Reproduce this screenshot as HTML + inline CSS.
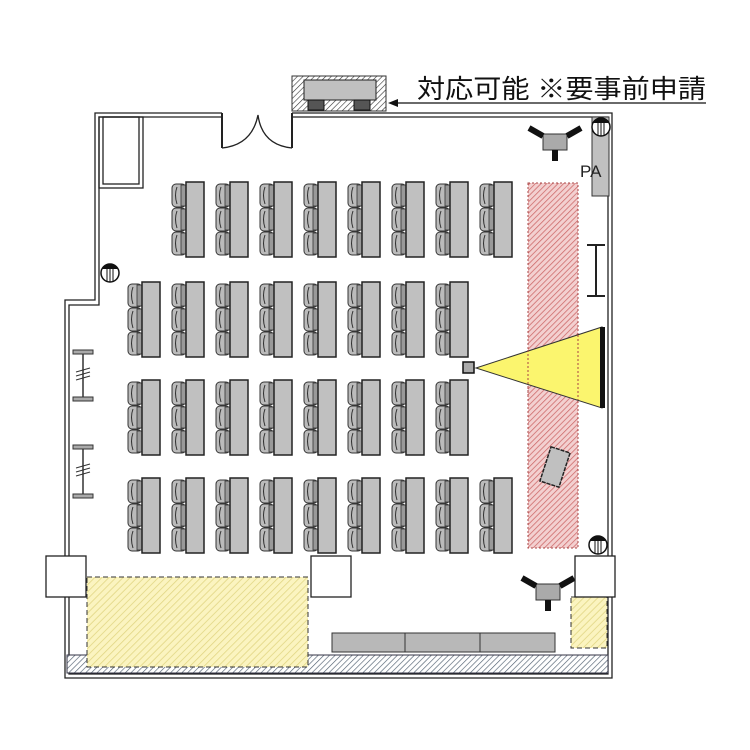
<!DOCTYPE html>
<html><head><meta charset="utf-8"><style>
html,body{margin:0;padding:0;background:#fff;width:750px;height:750px;overflow:hidden}
svg{display:block}
</style></head><body>
<svg width="750" height="750" viewBox="0 0 750 750" xmlns="http://www.w3.org/2000/svg">
<defs>
<pattern id="pink" patternUnits="userSpaceOnUse" width="4" height="4" patternTransform="rotate(45)">
<rect width="4" height="4" fill="#f3d0d0"/><line x1="0" y1="0" x2="0" y2="4" stroke="#cc6666" stroke-width="1.5"/></pattern>
<pattern id="yel" patternUnits="userSpaceOnUse" width="5" height="5" patternTransform="rotate(45)">
<rect width="5" height="5" fill="#fbf4c0"/><line x1="0" y1="0" x2="0" y2="5" stroke="#e0d480" stroke-width="1.5"/></pattern>
<pattern id="blue" patternUnits="userSpaceOnUse" width="4" height="4" patternTransform="rotate(45)">
<rect width="4" height="4" fill="#fff"/><line x1="0" y1="0" x2="0" y2="4" stroke="#506070" stroke-width="1.3"/></pattern>
<pattern id="gray" patternUnits="userSpaceOnUse" width="4" height="4" patternTransform="rotate(45)">
<rect width="4" height="4" fill="#fff"/><line x1="0" y1="0" x2="0" y2="4" stroke="#333" stroke-width="1.2"/></pattern>
<g id="chair">
<rect x="0" y="0" width="14" height="23" rx="4" fill="#bbb" stroke="#333" stroke-width="1"/>
<path d="M5 3 Q2 11 5 20" fill="none" stroke="#333" stroke-width="1"/>
<rect x="9" y="1" width="5" height="21" fill="#999" stroke="#333" stroke-width="0.8"/>
</g>
<g id="desk">
<use href="#chair" x="0" y="2"/>
<use href="#chair" x="0" y="26"/>
<use href="#chair" x="0" y="50"/>
<rect x="14" y="0" width="18" height="75" fill="#c0c0c0" stroke="#222" stroke-width="1.5"/>
</g>
<g id="spk">
<rect x="-12" y="0" width="24" height="16" fill="#aaa" stroke="#333"/>
<rect x="-3" y="16" width="6" height="11" fill="#111"/>
<line x1="-12" y1="2" x2="-26" y2="-6" stroke="#111" stroke-width="6"/>
<line x1="12" y1="2" x2="26" y2="-6" stroke="#111" stroke-width="6"/>
</g>
<g id="outlet">
<circle r="9" fill="#fff" stroke="#111" stroke-width="1.5"/>
<path d="M-8 -4 A9 9 0 0 1 8 -4 Z" fill="#111"/>
<line x1="-3" y1="-4" x2="-3" y2="8" stroke="#111"/>
<line x1="0" y1="-4" x2="0" y2="9" stroke="#111"/>
<line x1="3" y1="-4" x2="3" y2="8" stroke="#111"/>
</g>
</defs>

<rect x="292" y="76" width="94" height="35" fill="url(#gray)" stroke="#333"/>
<rect x="304" y="80" width="72" height="20" fill="#c0c0c0" stroke="#222"/>
<rect x="308" y="100" width="16" height="10" fill="#555" stroke="#111"/>
<rect x="354" y="100" width="16" height="10" fill="#555" stroke="#111"/>
<line x1="392" y1="103" x2="706" y2="103" stroke="#111" stroke-width="1.2"/>
<polygon points="388,103 398,99 398,107" fill="#111"/>
<text x="417" y="98" font-family="Liberation Sans, Noto Sans CJK JP, sans-serif" font-size="26" fill="#111" textLength="289" lengthAdjust="spacingAndGlyphs">対応可能 ※要事前申請</text>

<g fill="none" stroke="#222" stroke-width="1.3">
<path d="M222 113 H95 V300 H65 V678 H612 V113 H292"/>
<path d="M222 117 H99 V305 H69 V674 H608 V117 H292"/>
<rect x="99" y="117" width="44" height="71"/>
<rect x="103" y="117" width="36" height="67"/>
<line x1="222" y1="113" x2="222" y2="148" stroke-width="2"/>
<line x1="292" y1="113" x2="292" y2="148" stroke-width="2"/>
<path d="M222 148 Q252 145 258 115 Q262 145 292 148"/>
</g>

<rect x="67" y="655" width="541" height="18" fill="url(#blue)" stroke="#334" stroke-width="1"/>

<rect x="528" y="183" width="50" height="365" fill="url(#pink)" stroke="#a44" stroke-dasharray="2,2"/>

<polygon points="476,368 602,327 602,408" fill="#fbf56e" stroke="#333" stroke-width="1"/>
<rect x="600" y="327" width="5" height="81" fill="#111"/>
<rect x="463" y="362" width="11" height="11" fill="#aaa" stroke="#111" stroke-width="1.5"/>
<line x1="528" y1="350" x2="528" y2="395" stroke="#a44" stroke-dasharray="2,2"/>
<line x1="578" y1="335" x2="578" y2="400" stroke="#a44" stroke-dasharray="2,2"/>

<rect x="-10" y="-18" width="20" height="36" fill="#c0c0c0" stroke="#222" stroke-width="1.5" stroke-dasharray="4,1" transform="translate(555,467) rotate(18)"/>

<rect x="592" y="117" width="17" height="79" fill="#c0c0c0" stroke="#333"/>
<use href="#outlet" x="601" y="127"/>
<text x="580" y="177" font-family="Liberation Sans, sans-serif" font-size="17" fill="#222">PA</text>

<line x1="596" y1="245" x2="596" y2="296" stroke="#222" stroke-width="2"/>
<line x1="587" y1="245" x2="605" y2="245" stroke="#222" stroke-width="2"/>
<line x1="587" y1="296" x2="605" y2="296" stroke="#222" stroke-width="2"/>

<use href="#spk" x="555" y="134"/>
<use href="#spk" x="548" y="584"/>

<use href="#outlet" x="110" y="273"/>
<use href="#outlet" x="598" y="545"/>

<g stroke="#333" fill="#aaa">
<line x1="83" y1="352" x2="83" y2="398" stroke-width="1.5"/>
<rect x="73" y="350" width="20" height="4"/>
<rect x="73" y="397" width="20" height="4"/>
<line x1="83" y1="447" x2="83" y2="495" stroke-width="1.5"/>
<rect x="73" y="445" width="20" height="4"/>
<rect x="73" y="494" width="20" height="4"/>
<path d="M76 372 L90 368 M76 376 L90 372 M76 380 L90 376 M76 468 L90 464 M76 472 L90 468 M76 476 L90 472" fill="none" stroke-width="1"/>
</g>

<g>
<use href="#desk" x="172" y="182"/><use href="#desk" x="216" y="182"/><use href="#desk" x="260" y="182"/><use href="#desk" x="304" y="182"/>
<use href="#desk" x="348" y="182"/><use href="#desk" x="392" y="182"/><use href="#desk" x="436" y="182"/><use href="#desk" x="480" y="182"/>

<use href="#desk" x="128" y="282"/><use href="#desk" x="172" y="282"/><use href="#desk" x="216" y="282"/><use href="#desk" x="260" y="282"/>
<use href="#desk" x="304" y="282"/><use href="#desk" x="348" y="282"/><use href="#desk" x="392" y="282"/><use href="#desk" x="436" y="282"/>

<use href="#desk" x="128" y="380"/><use href="#desk" x="172" y="380"/><use href="#desk" x="216" y="380"/><use href="#desk" x="260" y="380"/>
<use href="#desk" x="304" y="380"/><use href="#desk" x="348" y="380"/><use href="#desk" x="392" y="380"/><use href="#desk" x="436" y="380"/>

<use href="#desk" x="128" y="478"/><use href="#desk" x="172" y="478"/><use href="#desk" x="216" y="478"/><use href="#desk" x="260" y="478"/>
<use href="#desk" x="304" y="478"/><use href="#desk" x="348" y="478"/><use href="#desk" x="392" y="478"/><use href="#desk" x="436" y="478"/><use href="#desk" x="480" y="478"/>
</g>

<rect x="87" y="577" width="221" height="90" fill="url(#yel)" stroke="#333" stroke-dasharray="5,3"/>
<rect x="571" y="597" width="36" height="51" fill="url(#yel)" stroke="#333" stroke-dasharray="5,3"/>

<rect x="46" y="556" width="40" height="41" fill="#fff" stroke="#222" stroke-width="1.3"/>
<rect x="311" y="556" width="40" height="41" fill="#fff" stroke="#222" stroke-width="1.3"/>
<rect x="575" y="556" width="40" height="41" fill="#fff" stroke="#222" stroke-width="1.3"/>

<rect x="332" y="633" width="223" height="19" fill="#b8b8b8" stroke="#333"/>
<line x1="405" y1="633" x2="405" y2="652" stroke="#333"/>
<line x1="480" y1="633" x2="480" y2="652" stroke="#333"/>
</svg>
</body></html>
